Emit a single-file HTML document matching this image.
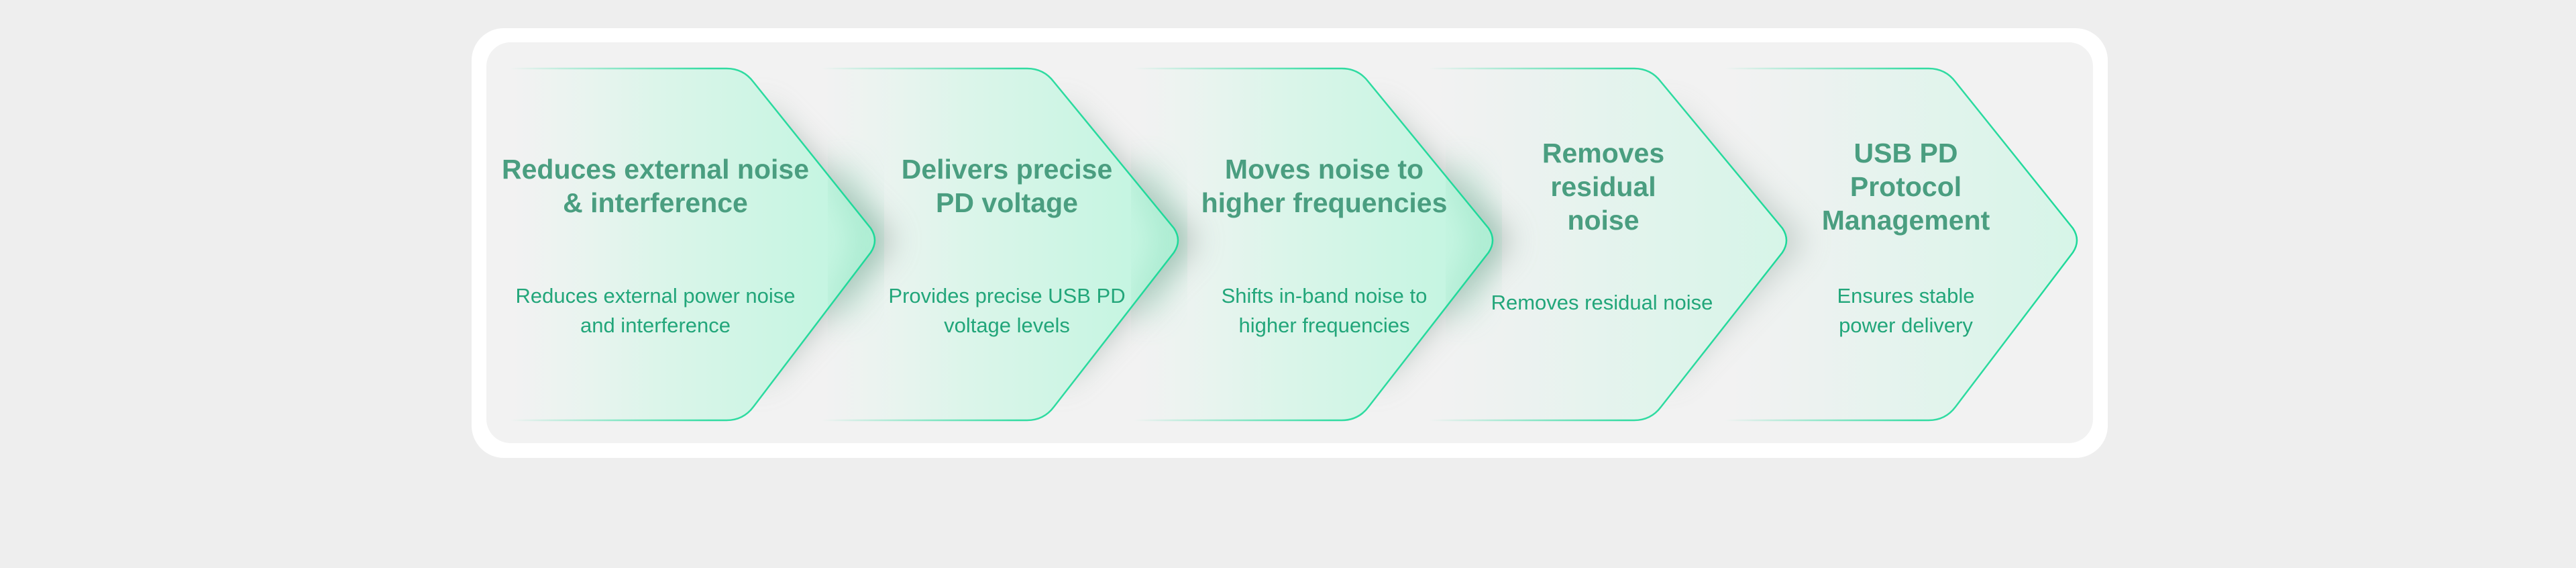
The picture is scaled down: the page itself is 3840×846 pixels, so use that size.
<!DOCTYPE html>
<html><head><meta charset="utf-8"><style>
html,body{margin:0;padding:0;background:#eeeeee;}
body{width:3840px;height:846px;position:relative;overflow:hidden;font-family:"Liberation Sans","DejaVu Sans",sans-serif;}
.outer{position:absolute;left:703px;top:42px;width:2439px;height:640px;background:#fff;border-radius:48px;}
.inner{position:absolute;left:725px;top:63px;width:2395px;height:597px;background:#f2f2f2;border-radius:36px;}
svg{position:absolute;left:0;top:0;}
.t{position:absolute;text-align:center;color:#4a9e80;font-weight:bold;font-size:41px;line-height:50px;transform:translateX(-50%);white-space:nowrap;}
.d{position:absolute;text-align:center;color:#22a67a;font-size:31px;line-height:44px;transform:translateX(-50%);white-space:nowrap;}
</style></head><body>
<div class="outer"></div><div class="inner"></div>
<svg width="3840" height="846" viewBox="0 0 3840 846">
<defs>
<filter id="sh" x="-30%" y="-30%" width="160%" height="160%"><feGaussianBlur stdDeviation="24"/></filter>
<linearGradient id="f1" x1="0" x2="1" y1="0" y2="0"><stop offset="0" stop-color="#e4f5ee" stop-opacity="0"/><stop offset="0.4" stop-color="#dcf5ea"/><stop offset="1" stop-color="#bff5df"/></linearGradient>
<linearGradient id="f2" x1="0" x2="1" y1="0" y2="0"><stop offset="0" stop-color="#eaf2ef" stop-opacity="0"/><stop offset="0.45" stop-color="#e6f3ee"/><stop offset="1" stop-color="#d6f5e8"/></linearGradient>
<linearGradient id="s" x1="0" x2="1" y1="0" y2="0"><stop offset="0" stop-color="#1fd99a" stop-opacity="0"/><stop offset="0.55" stop-color="#1fd99a" stop-opacity="0.9"/><stop offset="1" stop-color="#1fd99a"/></linearGradient>
</defs>
<g id="c">
</g>
</svg>
<script>
const L=[760,1225,1690,2130,2571],C=[1108,1556,2025,2461,2900],T=[1310,1762,2231,2669,3102];
let h='';
for(let i=4;i>=0;i--){
 const l=L[i],c=C[i],t=T[i],top=102,bot=626,m=358;
 const p=`M${l},${top} H${c-25} Q${c},${top} ${c+15},${top+20} L${t-12},${m-18} Q${t},${m} ${t-12},${m+18} L${c+15},${bot-20} Q${c},${bot} ${c-25},${bot} H${l}`;
 const fill=i<3?'url(#f1)':'url(#f2)';
 if(i<4) h+=`<path d="M${c+20},${top+50} L${t+22},${m} L${c+20},${bot-50} Z" fill="#7f958c" opacity="${i<3?0.6:0.4}" filter="url(#sh)"/>`;
 h+=`<path d="${p} Z" fill="${fill}"/>`;
 if(i<3) h+=`<path d="M${t-60},${m-110} L${t-8},${m} L${t-60},${m+110}" fill="none" stroke="#6fcfa8" stroke-width="30" opacity="0.4" filter="url(#sh)"/>`;
 h+=`<path d="${p}" fill="none" stroke="url(#s)" stroke-width="2.5"/>`;
}
document.getElementById('c').innerHTML=h;
</script>
<div class="t" style="left:977px;top:227px;">Reduces external noise<br>&amp; interference</div>
<div class="d" style="left:977px;top:419px;">Reduces external power noise<br>and interference</div>
<div class="t" style="left:1501px;top:227px;">Delivers precise<br>PD voltage</div>
<div class="d" style="left:1501px;top:419px;">Provides precise USB PD<br>voltage levels</div>
<div class="t" style="left:1974px;top:227px;">Moves noise to<br>higher frequencies</div>
<div class="d" style="left:1974px;top:419px;">Shifts in-band noise to<br>higher frequencies</div>
<div class="t" style="left:2390px;top:203px;">Removes<br>residual<br>noise</div>
<div class="d" style="left:2388px;top:429px;">Removes residual noise</div>
<div class="t" style="left:2841px;top:203px;">USB PD<br>Protocol<br>Management</div>
<div class="d" style="left:2841px;top:419px;">Ensures stable<br>power delivery</div>
</body></html>
